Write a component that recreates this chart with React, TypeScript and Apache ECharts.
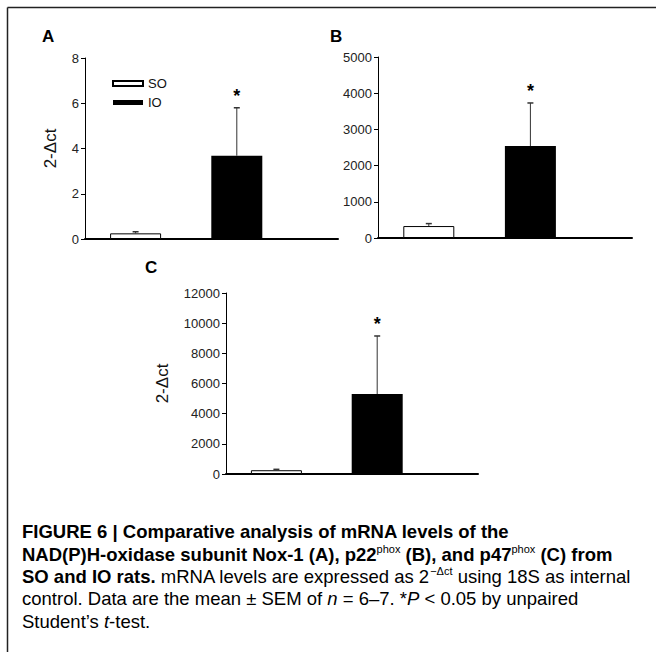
import React, { useEffect, useRef } from "react";
import * as echarts from "echarts";

// ---------- data ----------
const categories = ["SO", "IO"];
const meansA = [0.25, 3.68];
const semA = [0.07, 2.12];
const meansB = [330, 2540];
const semB = [68, 1190];
const meansC = [250, 5300];
const semC = [60, 3850];
const significant = [0, 1];
const yMaxA = 8;
const yStepA = 2;
const yMaxB = 5000;
const yStepB = 1000;
const yMaxC = 12000;
const yStepC = 2000;
const yTitle = "2-\u0394ct";
const panelLabels = ["A", "B", "C"];

const FONT = "'Liberation Sans', Arial, Helvetica, sans-serif";

export default function App() {
  const ref = useRef<HTMLDivElement>(null);
  useEffect(() => {
    if (!ref.current) return;
    const chart = echarts.init(ref.current, undefined, { renderer: "svg" });

    const grids = [
      { left: 85, top: 58, width: 253, height: 181 },
      { left: 378, top: 57, width: 254, height: 181 },
      { left: 226, top: 293, width: 252, height: 181 },
    ];
    const yCfg = [
      { max: yMaxA, interval: yStepA, name: yTitle, nameGap: 26 },
      { max: yMaxB, interval: yStepB, name: "", nameGap: 0 },
      { max: yMaxC, interval: yStepC, name: yTitle, nameGap: 55 },
    ];
    const means = [meansA, meansB, meansC];
    const sems = [semA, semB, semC];

    const xAxis = grids.map((_, i) => ({
      type: "value",
      gridIndex: i,
      min: 0,
      max: 2.5,
      axisLine: { show: true, lineStyle: { color: "#000", width: 2 } },
      axisTick: { show: false },
      axisLabel: { show: false },
      splitLine: { show: false },
    }));
    const yAxis = yCfg.map((c, i) => ({
      type: "value",
      gridIndex: i,
      min: 0,
      max: c.max,
      interval: c.interval,
      name: c.name,
      nameLocation: "middle",
      nameRotate: 90,
      nameGap: c.nameGap,
      nameTextStyle: { fontSize: 17, fontFamily: FONT, color: "#111" },
      axisLine: { show: true, lineStyle: { color: "#000", width: 1 } },
      axisTick: { show: true, inside: false, length: 4, lineStyle: { color: "#000" } },
      axisLabel: {
        fontSize: 13,
        fontFamily: FONT,
        color: "#222",
        margin: 6,
        formatter: (v: number) => String(v),
      },
      splitLine: { show: false },
    }));

    const series: any[] = [];
    means.forEach((m, i) => {
      series.push({
        type: "bar",
        name: categories[0],
        xAxisIndex: i,
        yAxisIndex: i,
        barWidth: 51,
        barGap: "-100%",
        itemStyle: { color: "#fff", borderColor: "#000", borderWidth: 1 },
        data: [[0.5, m[0]]],
      });
      series.push({
        type: "bar",
        name: categories[1],
        xAxisIndex: i,
        yAxisIndex: i,
        barWidth: 51,
        barGap: "-100%",
        itemStyle: { color: "#000" },
        data: [[1.5, m[1]]],
      });
      series.push({
        type: "custom",
        name: "err" + i,
        xAxisIndex: i,
        yAxisIndex: i,
        z: 5,
        encode: { x: 0, y: 1 },
        data: m.map((v, k) => [k + 0.5, v, sems[i][k], significant[k]]),
        renderItem: (params: any, api: any) => {
          const x = api.value(0);
          const v = api.value(1);
          const s = api.value(2);
          const sig = api.value(3);
          const p0 = api.coord([x, v]);
          const p1 = api.coord([x, v + s]);
          const children: any[] = [
            {
              type: "line",
              shape: { x1: p0[0], y1: p0[1], x2: p1[0], y2: p1[1] },
              style: { stroke: "#333", lineWidth: 1 },
            },
            {
              type: "line",
              shape: { x1: p1[0] - 3, y1: p1[1], x2: p1[0] + 3, y2: p1[1] },
              style: { stroke: "#333", lineWidth: 1.5 },
            },
          ];
          if (sig) {
            children.push({
              type: "text",
              style: {
                text: "*",
                x: p1[0],
                y: p1[1] - 12,
                align: "center",
                verticalAlign: "middle",
                fontSize: 18,
                fontWeight: "bold",
                fontFamily: FONT,
                fill: "#000",
              },
            });
          }
          return { type: "group", children };
        },
      });
    });

    const capBase = { fontSize: 18.5, fontFamily: FONT, lineHeight: 22 };
    const rich = {
      b: { ...capBase, fontWeight: "bold", color: "#111" },
      r: { ...capBase, color: "#222" },
      i: { ...capBase, color: "#222", fontStyle: "italic" },
      sup: { fontSize: 11, fontFamily: FONT, color: "#222", lineHeight: 12, verticalAlign: "top" },
    };
    const captionLines = [
      "{b|FIGURE 6 | Comparative analysis of mRNA levels of the}",
      "{b|NAD(P)H-oxidase subunit Nox-1 (A), p22}{sup|phox}{b| (B), and p47}{sup|phox}{b| (C) from}",
      "{b|SO and IO rats.}{r| mRNA levels are expressed as 2}{sup|\u2212\u0394ct}{r| using 18S as internal}",
      "{r|control. Data are the mean \u00b1 SEM of }{i|n}{r| = 6\u20137. *}{i|P}{r| < 0.05 by unpaired}",
      "{r|Student\u2019s }{i|t}{r|-test.}",
    ];
    const captionY = [531, 554, 576, 598, 621];

    const graphic: any[] = [
      { type: "line", shape: { x1: 7.5, y1: 7.5, x2: 656, y2: 7.5 }, style: { stroke: "#222", lineWidth: 1.5 } },
      { type: "line", shape: { x1: 7.5, y1: 7.5, x2: 7.5, y2: 652 }, style: { stroke: "#222", lineWidth: 1.5 } },
    ];
    const labelPos = [
      [42, 36],
      [330, 36],
      [145, 267],
    ];
    panelLabels.forEach((t, i) => {
      graphic.push({
        type: "text",
        x: labelPos[i][0],
        y: labelPos[i][1],
        style: {
          text: t,
          fontSize: 17,
          fontWeight: "bold",
          fontFamily: FONT,
          fill: "#000",
          verticalAlign: "middle",
        },
      });
    });
    captionLines.forEach((t, i) => {
      graphic.push({
        type: "text",
        x: 22,
        y: captionY[i],
        style: { text: t, rich, verticalAlign: "middle", fontFamily: FONT },
      });
    });

    chart.setOption({
      animation: false,
      backgroundColor: "#fff",
      grid: grids,
      xAxis,
      yAxis,
      legend: {
        orient: "vertical",
        left: 107,
        top: 72,
        itemWidth: 30,
        itemHeight: 5,
        itemGap: 6,
        icon: "rect",
        data: categories,
        textStyle: { fontSize: 13, fontFamily: FONT, color: "#111" },
        selectedMode: false,
      },
      series,
      graphic,
    });
    return () => chart.dispose();
  }, []);
  return (
    <div
      ref={ref}
      style={{ position: "absolute", left: 0, top: 0, width: 656, height: 652, background: "#fff" }}
    />
  );
}
